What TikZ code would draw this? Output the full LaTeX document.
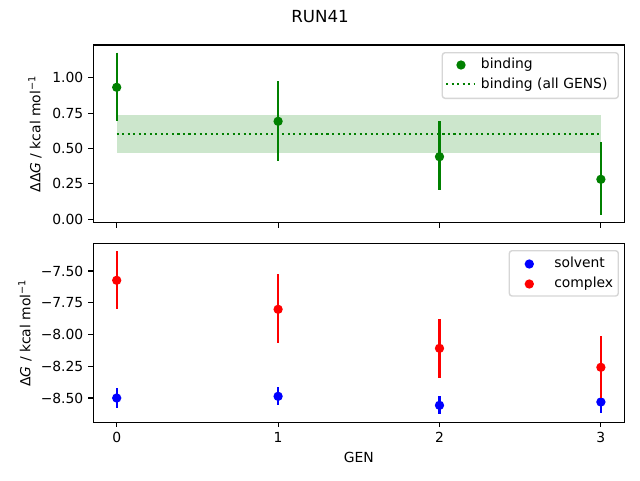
\documentclass[tikz,border=0pt]{standalone}
\usepackage{fontspec}
\setmainfont{DejaVu Sans}
\definecolor{mgreen}{HTML}{008000}
\definecolor{mblue}{HTML}{0000FF}
\definecolor{mred}{HTML}{FF0000}
\definecolor{bandc}{HTML}{CCE6CC}
\definecolor{legedge}{HTML}{D6D6D6}
\begin{document}
\begin{tikzpicture}[x=0.75pt,y=-0.75pt,
  lab/.style={inner sep=0pt, font=\fontsize{10.42}{12}\selectfont},
  spine/.style={line width=0.83pt, black},
  tickmark/.style={line width=0.83pt, black},
  ebar/.style={line width=1.6pt},
  dot/.style={circle, inner sep=0pt, minimum size=7pt},
  legbox/.style={draw=legedge, line width=1.04pt, rounded corners=2.08pt, fill=white, fill opacity=0.8}]
\useasboundingbox (0,0) rectangle (640,480);
\fill[white] (0,0) rectangle (640,480);

% title
\node[inner sep=0pt, anchor=base, font=\fontsize{12.5}{14}\selectfont] (title) at (320,22.5) {RUN41};

% ---------- top axes ----------
\fill[bandc] (116.7,115) rectangle (600.9,152.7);
\draw[mgreen, line width=1.5625pt, dash pattern=on 1.5625pt off 2.578pt] (116.7,133.8) -- (600.9,133.8);

\foreach \x/\yc/\yt/\yb [count=\i] in {116.7/87.3/52.7/120.7, 278.1/121.3/81/160.7, 439.5/156.7/121/190, 600.9/179.3/142/215}{
  \coordinate (gt\i) at (\x,\yt);
  \coordinate (gb\i) at (\x,\yb);
  \draw[ebar, mgreen] (gt\i) -- (gb\i);
  \node[dot, fill=mgreen] (g\i) at (\x,\yc) {};
}

\draw[spine] (93.3,45) rectangle (624.6,222.7);
\foreach \x in {116.7,278.1,439.5,600.9}
  \draw[tickmark] (\x,222.7) -- (\x,227.6);
\foreach \v/\y [count=\i] in {0.00/219.3, 0.25/183.9, 0.50/148.5, 0.75/113.1, 1.00/77.7}{
  \draw[tickmark] (93.3,\y) -- (88.4,\y);
  \node[lab, anchor=base east] (tyl\i) at (83.6,\y+5.05) {\v};
}
\node[lab, rotate=90] (ylt) at (35,134) {ΔΔ\textit{G} / kcal mol\textsuperscript{−1}};

% legend top
\draw[legbox] (442.3,52.7) rectangle (618.3,98.3);
\node[dot, fill=mgreen] (lg1) at (461,65) {};
\coordinate (ld1) at (446,84.3);
\coordinate (ld2) at (475,84.3);
\draw[mgreen, line width=1.5625pt, dash pattern=on 1.5625pt off 2.578pt] (ld1) -- (ld2);
\node[lab, anchor=base west] (lt1) at (480.7,68.8) {binding};
\node[lab, anchor=base west] (lt2) at (480.7,88.1) {binding (all GENS)};

% ---------- bottom axes ----------
\foreach \x/\yc/\yt/\yb [count=\i] in {116.7/398/388/407.7, 278.1/396.3/387/405, 439.5/405.3/396/414, 600.9/402/391.3/412.7}{
  \coordinate (st\i) at (\x,\yt);
  \coordinate (sb\i) at (\x,\yb);
  \draw[ebar, mblue] (st\i) -- (sb\i);
  \node[dot, fill=mblue] (s\i) at (\x,\yc) {};
}
\foreach \x/\yc/\yt/\yb [count=\i] in {116.7/280.3/251/308.7, 278.1/309.3/274/342.7, 439.5/348.3/319/377.7, 600.9/367.3/336/398}{
  \coordinate (ct\i) at (\x,\yt);
  \coordinate (cb\i) at (\x,\yb);
  \draw[ebar, mred] (ct\i) -- (cb\i);
  \node[dot, fill=mred] (c\i) at (\x,\yc) {};
}

\draw[spine] (93.3,243.3) rectangle (624.6,422.3);
\foreach \x/\t [count=\i] in {116.7/0,278.1/1,439.5/2,600.9/3}{
  \draw[tickmark] (\x,422.3) -- (\x,427.2);
  \node[lab, anchor=base] (xl\i) at (\x,442) {\t};
}
\foreach \v/\y [count=\i] in {−7.50/271, −7.75/302.75, −8.00/334.5, −8.25/366.25, −8.50/398}{
  \draw[tickmark] (93.3,\y) -- (88.4,\y);
  \node[lab, anchor=base east] (byl\i) at (83.6,\y+5.05) {\v};
}
\node[lab, rotate=90] (ylb) at (25,333) {Δ\textit{G} / kcal mol\textsuperscript{−1}};
\node[lab, anchor=base] (xlab) at (358.9,462.3) {GEN};

% legend bottom
\draw[legbox] (509.3,250.7) rectangle (618.3,296);
\node[dot, fill=mblue] (lb1) at (529.3,264) {};
\node[dot, fill=mred] (lb2) at (529.3,284) {};
\node[lab, anchor=base west] (lbt1) at (554,267.6) {solvent};
\node[lab, anchor=base west] (lbt2) at (554,287.4) {complex};
\end{tikzpicture}
\end{document}
